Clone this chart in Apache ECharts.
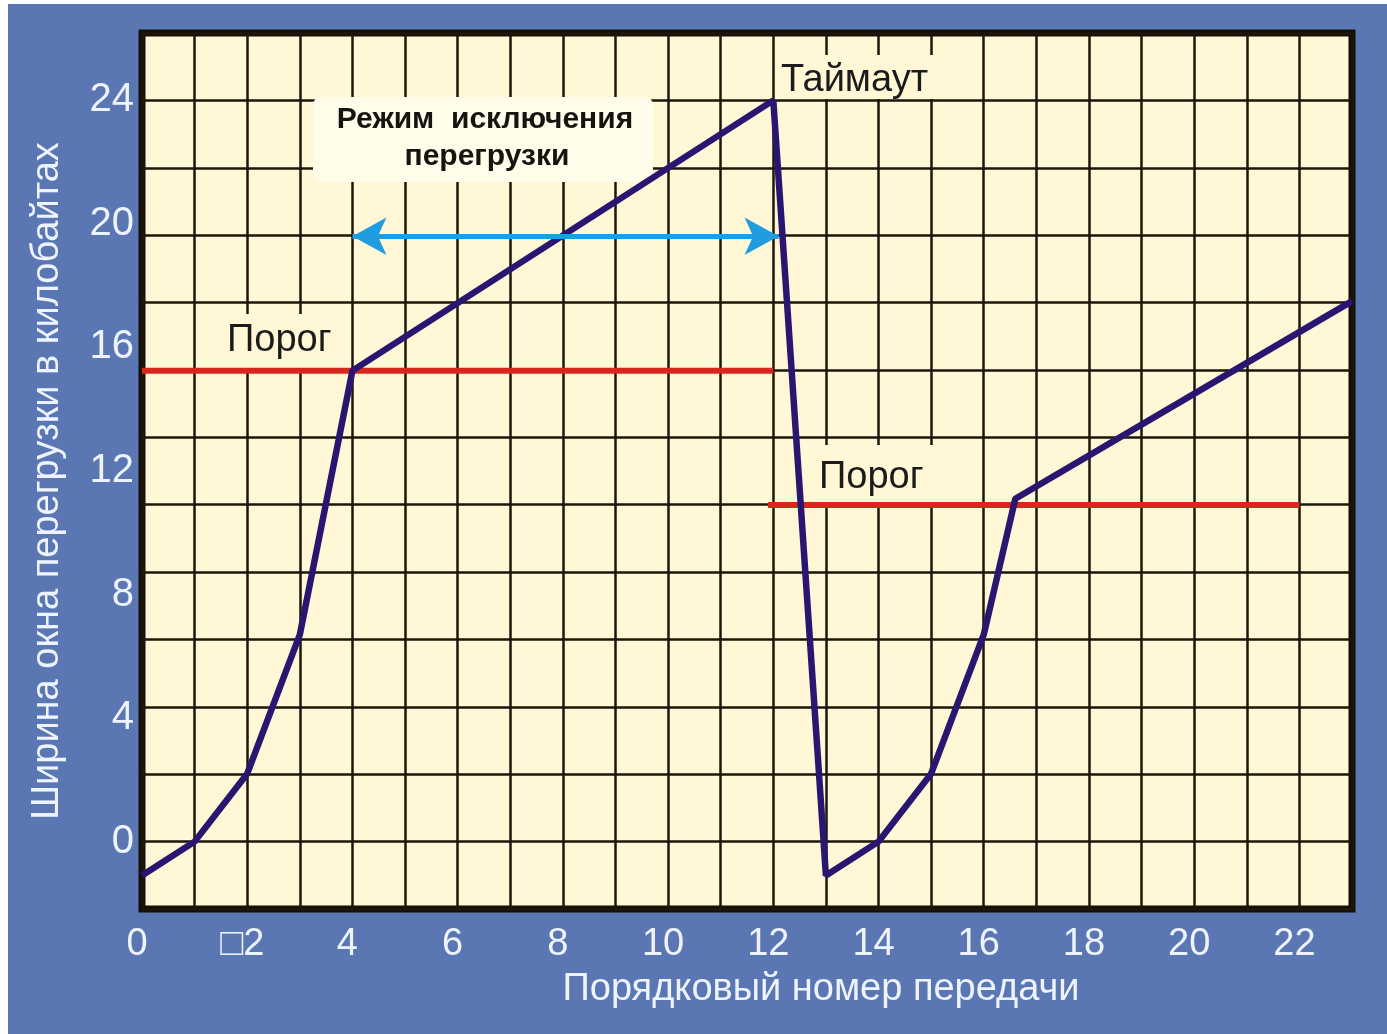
<!DOCTYPE html>
<html>
<head>
<meta charset="utf-8">
<script src="https://cdn.jsdelivr.net/npm/echarts@6/dist/echarts.min.js"></script>
<style>
  html, body { margin: 0; padding: 0; background: #5a77b3; }
  #chart { width: 1387px; height: 1034px; }
</style>
</head>
<body>
<div id="chart"></div>
<script>
// congestion window (kB) per transmission number
const windowX = [0, 1, 2, 3, 4, 12, 13, 14, 15, 16, 16.6, 23];
const windowY = [-1.1, 0, 2.2, 6.7, 15.25, 24, -1.1, 0, 2.2, 6.7, 11.1, 17.5];

// thresholds ("Порог")
const threshold1X = [0, 12];
const threshold1Y = [15.25, 15.25];
const threshold2X = [11.9, 22];
const threshold2Y = [10.9, 10.9];

// congestion avoidance arrow
const arrowX = [4, 12.1];
const arrowY = [19.6, 19.6];

const xTickValues = [0, 2, 4, 6, 8, 10, 12, 14, 16, 18, 20, 22];
const xTickText = ['0', '\u25A12', '4', '6', '8', '10', '12', '14', '16', '18', '20', '22'];
const yTickValues = [0, 4, 8, 12, 16, 20, 24];
const yTickText = ['0', '4', '8', '12', '16', '20', '24'];

const yStep = 24 / 11;

const zip = (xs, ys) => xs.map((x, i) => [x, ys[i]]);

const chart = echarts.init(document.getElementById('chart'));

const axisFont = "'Liberation Sans Narrow', 'Liberation Sans', sans-serif";
const textFont = "'Liberation Sans', sans-serif";

const option = {
  backgroundColor: '#5a77b3',
  animation: false,
  grid: {
    left: 142,
    right: 35,
    top: 33,
    bottom: 125,
    show: true,
    backgroundColor: '#fff7d6',
    borderColor: '#140e04',
    borderWidth: 7,
  },
  xAxis: {
    type: 'value',
    min: 0,
    max: 23,
    interval: 1,
    axisLine: { show: false },
    axisTick: { show: false },
    splitLine: { show: true, lineStyle: { color: '#1e1608', width: 2.5 } },
    axisLabel: {
      customValues: xTickValues,
      formatter: (v) => xTickText[xTickValues.indexOf(v)] || '',
      color: '#eef4ff',
      fontFamily: axisFont,
      fontSize: 38,
      margin: 17,
      padding: [0, 10, 0, 0],
    },
  },
  yAxis: {
    type: 'value',
    min: -yStep,
    max: 24 + yStep,
    interval: yStep,
    axisLine: { show: false },
    axisTick: { show: false },
    splitLine: { show: true, lineStyle: { color: '#1e1608', width: 2.5 } },
    axisLabel: {
      customValues: yTickValues,
      formatter: (v) => yTickText[yTickValues.indexOf(v)] || '',
      color: '#eef4ff',
      fontFamily: axisFont,
      fontSize: 40,
      margin: 8,
      padding: [4, 0, 0, 0],
    },
  },
  series: [
    {
      name: 'Порог 1',
      type: 'line',
      data: zip(threshold1X, threshold1Y),
      symbol: 'none',
      z: 3,
      lineStyle: { color: '#d8281e', width: 6 },
    },
    {
      name: 'Порог 2',
      type: 'line',
      data: zip(threshold2X, threshold2Y),
      symbol: 'none',
      z: 3,
      lineStyle: { color: '#d8281e', width: 6 },
    },
    {
      name: 'Окно',
      type: 'line',
      data: zip(windowX, windowY),
      symbol: 'none',
      z: 4,
      lineStyle: { color: '#2a1670', width: 6.5 },
    },
    {
      name: 'Стрелка',
      type: 'line',
      data: [],
      markLine: {
        silent: true,
        symbol: ['arrow', 'arrow'],
        symbolSize: [28, 34],
        label: { show: false },
        lineStyle: { color: '#1f9de0', width: 5, type: 'solid' },
        data: [[{ coord: zip(arrowX, arrowY)[0] }, { coord: zip(arrowX, arrowY)[1] }]],
      },
    },
  ],
  graphic: [
    // white strips at the picture edge
    { type: 'rect', left: 0, top: 0, shape: { width: 8, height: 1034 }, style: { fill: '#ffffff' }, z: 1 },
    { type: 'rect', left: 0, top: 0, shape: { width: 1387, height: 4 }, style: { fill: '#ffffff' }, z: 1 },
    // boxes behind annotations
    { type: 'rect', shape: { x: 313, y: 97, width: 340, height: 85, r: 8 }, style: { fill: '#fffce9' }, z: 1 },
    { type: 'rect', shape: { x: 776, y: 55, width: 168, height: 44 }, style: { fill: '#fff7d6' }, z: 1 },
    { type: 'rect', shape: { x: 222, y: 314, width: 118, height: 54 }, style: { fill: '#fff7d6' }, z: 1 },
    { type: 'rect', shape: { x: 815, y: 445, width: 128, height: 57 }, style: { fill: '#fff7d6' }, z: 1 },
    // annotations
    {
      type: 'text', x: 485, y: 120, z: 10,
      style: { text: 'Режим  исключения', fill: '#161410', font: 'bold 30px ' + textFont, align: 'center', verticalAlign: 'middle' },
    },
    {
      type: 'text', x: 487, y: 157, z: 10,
      style: { text: 'перегрузки', fill: '#161410', font: 'bold 30px ' + textFont, align: 'center', verticalAlign: 'middle' },
    },
    {
      type: 'text', x: 781, y: 81, z: 10,
      style: { text: 'Таймаут', fill: '#1b1b1b', font: '38px ' + textFont, align: 'left', verticalAlign: 'middle' },
    },
    {
      type: 'text', x: 227, y: 341, z: 10,
      style: { text: 'Порог', fill: '#1b1b1b', font: '38px ' + textFont, align: 'left', verticalAlign: 'middle' },
    },
    {
      type: 'text', x: 819, y: 478, z: 10,
      style: { text: 'Порог', fill: '#1b1b1b', font: '38px ' + textFont, align: 'left', verticalAlign: 'middle' },
    },
    // axis names
    {
      type: 'text', x: 821, y: 990, z: 10,
      style: { text: 'Порядковый номер передачи', fill: '#eef4ff', font: '38px ' + textFont, align: 'center', verticalAlign: 'middle' },
    },
    {
      type: 'text', x: 48, y: 481, rotation: Math.PI / 2, z: 10,
      style: { text: 'Ширина окна перегрузки в килобайтах', fill: '#eef4ff', font: '38px ' + textFont, align: 'center', verticalAlign: 'middle' },
    },
  ],
};

chart.setOption(option);
</script>
</body>
</html>
